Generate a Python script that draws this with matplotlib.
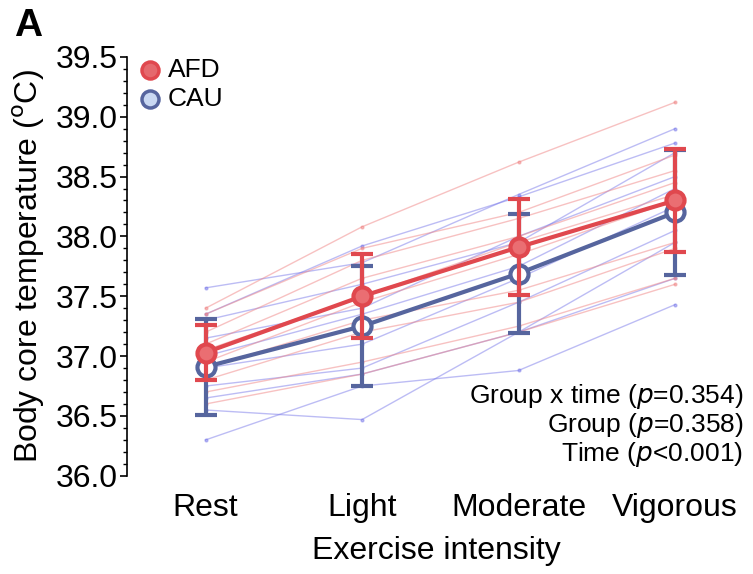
import matplotlib.pyplot as plt
import numpy as np
from matplotlib.ticker import MultipleLocator

plt.rcParams["font.family"] = ["Liberation Sans", "DejaVu Sans"]

LEVELS = ["Rest", "Light", "Moderate", "Vigorous"]

AFD_MEAN = [37.03, 37.50, 37.91, 38.30]
AFD_SD = [0.23, 0.35, 0.40, 0.43]
CAU_MEAN = [36.91, 37.25, 37.69, 38.20]
CAU_SD = [0.40, 0.50, 0.50, 0.52]

# individual participants
AFD_SUBJ = [
    [37.40, 38.08, 38.62, 39.12],
    [37.35, 37.90, 38.20, 38.68],
    [37.20, 37.80, 38.15, 38.55],
    [37.10, 37.65, 38.00, 38.45],
    [37.05, 37.50, 37.95, 38.35],
    [36.95, 37.45, 37.85, 38.30],
    [36.90, 37.30, 37.55, 37.95],
    [36.80, 37.20, 37.45, 37.90],
    [36.70, 36.95, 37.25, 37.65],
    [36.60, 36.85, 37.20, 37.60],
]
CAU_SUBJ = [
    [37.57, 37.78, 38.35, 38.90],
    [37.35, 37.92, 38.33, 38.78],
    [37.30, 37.60, 37.95, 38.70],
    [37.15, 37.40, 38.00, 38.50],
    [37.00, 37.35, 37.75, 38.40],
    [36.90, 37.10, 37.65, 38.25],
    [36.75, 36.90, 37.45, 38.05],
    [36.65, 36.85, 37.20, 37.95],
    [36.55, 36.47, 37.20, 37.65],
    [36.30, 36.75, 36.88, 37.43],
]

RED = "#e0484e"
RED_FACE = "#ea6e72"
BLUE = "#56659e"
BLUE_FACE = "#ffffff"

x = np.arange(len(LEVELS))

fig = plt.figure(figsize=(7.53, 5.74), dpi=100)
ax = fig.add_axes([0.169, 0.171, 0.821, 0.730])

for row in CAU_SUBJ:
    ax.plot(x, row, color="#7b7bea", alpha=0.5, lw=1.0, marker="o", ms=2, zorder=1)
for row in AFD_SUBJ:
    ax.plot(x, row, color="#f08585", alpha=0.5, lw=1.0, marker="o", ms=2, zorder=1)

ax.errorbar(x, CAU_MEAN, yerr=CAU_SD, color=BLUE, lw=3, capsize=8, capthick=3,
            marker="o", ms=13, mfc=BLUE_FACE, mec=BLUE, mew=3, zorder=3)
ax.errorbar(x, AFD_MEAN, yerr=AFD_SD, color=RED, lw=3, capsize=8, capthick=3,
            marker="o", ms=13, mfc=RED_FACE, mec=RED, mew=3, zorder=4)

h1 = ax.scatter([], [], s=150, color="#e5696d", edgecolor=RED, linewidth=2.5)
h2 = ax.scatter([], [], s=150, color="#c9d8f2", edgecolor=BLUE, linewidth=2.5)
ax.legend([h1, h2], ["AFD", "CAU"], loc="upper left", bbox_to_anchor=(-0.045, 1.055),
          frameon=False, fontsize=19, handletextpad=-0.3, labelspacing=0.2)

ax.set_xlim(-0.5, 3.45)
ax.set_ylim(36.0, 39.5)
ax.set_xticks(x)
ax.set_xticklabels(LEVELS, fontsize=23)
ax.yaxis.set_major_locator(MultipleLocator(0.5))
ax.yaxis.set_minor_locator(MultipleLocator(0.1))
ax.set_yticklabels([f"{v:.1f}" for v in ax.get_yticks()], fontsize=23)
ax.tick_params(axis="x", length=0, pad=12)
ax.tick_params(axis="y", which="major", length=5, width=1.2, pad=2)
ax.tick_params(axis="y", which="minor", length=3, width=1)

for s in ["top", "right", "bottom"]:
    ax.spines[s].set_visible(False)
ax.spines["left"].set_linewidth(1.2)

ax.set_xlabel("Exercise intensity", fontsize=23, labelpad=10)
ax.set_ylabel("Body core temperature ($^{\\mathrm{o}}$C)", fontsize=23, labelpad=6)

ax.text(0.997, 0.19, "Group x time ($\\it{p}$=0.354)", transform=ax.transAxes,
        ha="right", va="center", fontsize=19)
ax.text(0.997, 0.121, "Group ($\\it{p}$=0.358)", transform=ax.transAxes,
        ha="right", va="center", fontsize=19)
ax.text(0.997, 0.05, "Time ($\\it{p}$<0.001)", transform=ax.transAxes,
        ha="right", va="center", fontsize=19)

fig.text(0.018, 0.955, "A", fontsize=28, fontweight="bold", va="center")

plt.savefig("out.png", dpi=100)
